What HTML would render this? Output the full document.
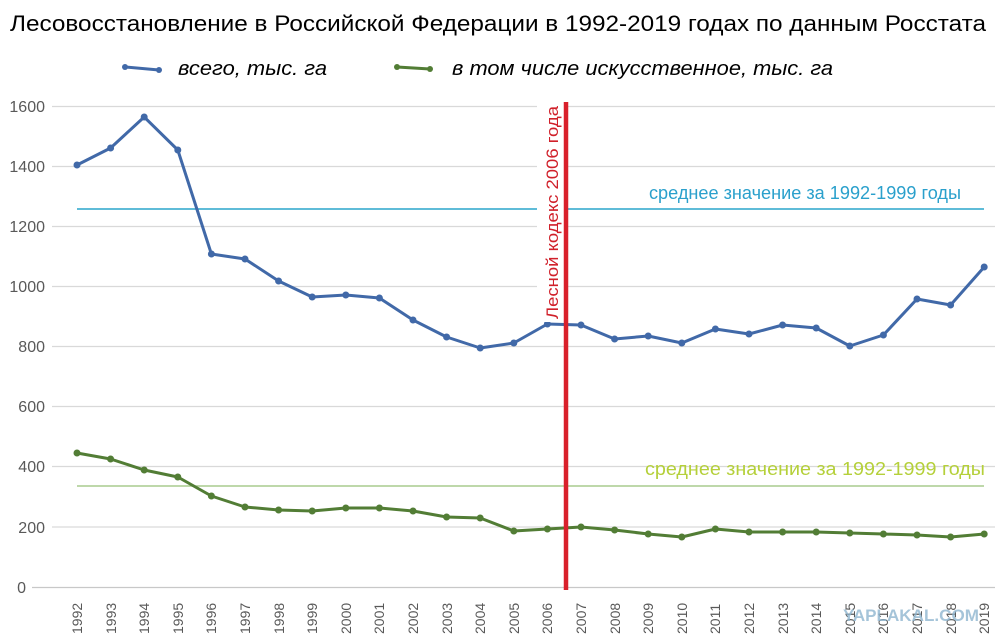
<!DOCTYPE html>
<html><head><meta charset="utf-8"><style>html,body{margin:0;padding:0;background:#fff}svg{display:block}</style></head>
<body>
<svg width="1000" height="643" viewBox="0 0 1000 643" xmlns="http://www.w3.org/2000/svg" font-family="Liberation Sans, DejaVu Sans, sans-serif">
<rect width="1000" height="643" fill="#fff"/>
<text x="10" y="31" font-size="22" fill="#000" textLength="976" lengthAdjust="spacingAndGlyphs">Лесовосстановление в Российской Федерации в 1992-2019 годах по данным Росстата</text>
<g stroke-linecap="round">
<line x1="125" y1="67" x2="159" y2="70" stroke="#4169a8" stroke-width="3"/>
<circle cx="125" cy="67" r="3" fill="#4169a8"/><circle cx="159" cy="70" r="3" fill="#4169a8"/>
<line x1="397" y1="67" x2="430" y2="69" stroke="#527d35" stroke-width="3"/>
<circle cx="397" cy="67" r="3" fill="#527d35"/><circle cx="430" cy="69" r="3" fill="#527d35"/>
</g>
<text x="178" y="75" font-size="20" font-style="italic" fill="#000" textLength="149" lengthAdjust="spacingAndGlyphs">всего, тыс. га</text>
<text x="452" y="75" font-size="20" font-style="italic" fill="#000" textLength="381" lengthAdjust="spacingAndGlyphs">в том числе искусственное, тыс. га</text>
<g stroke="#d9d9d9" stroke-width="1.3">
<line x1="52" y1="106.5" x2="995" y2="106.5"/><line x1="52" y1="166.5" x2="995" y2="166.5"/>
<line x1="52" y1="226.5" x2="995" y2="226.5"/><line x1="52" y1="286.5" x2="995" y2="286.5"/>
<line x1="52" y1="346.5" x2="995" y2="346.5"/><line x1="52" y1="406.5" x2="995" y2="406.5"/>
<line x1="52" y1="466.5" x2="995" y2="466.5"/><line x1="52" y1="527" x2="995" y2="527"/>
<line x1="32" y1="587.5" x2="995" y2="587.5" stroke="#c8c8c8"/>
</g>
<g font-size="16" fill="#595959" text-anchor="end">
<text x="45" y="112">1600</text><text x="45" y="172">1400</text><text x="45" y="232">1200</text>
<text x="45" y="292">1000</text><text x="45" y="352">800</text><text x="45" y="412">600</text>
<text x="45" y="472">400</text><text x="45" y="533">200</text><text x="26" y="593">0</text>
</g>
<line x1="77" y1="209" x2="984" y2="209" stroke="#2aa5cc" stroke-width="1.5"/>
<line x1="77" y1="486" x2="984" y2="486" stroke="#a9cc8e" stroke-width="1.5"/>
<text x="649" y="199" font-size="18" fill="#2aa0cc" textLength="312" lengthAdjust="spacingAndGlyphs">среднее значение за 1992-1999 годы</text>
<text x="645" y="475" font-size="18" fill="#b5d03a" textLength="340" lengthAdjust="spacingAndGlyphs">среднее значение за 1992-1999 годы</text>
<polyline fill="none" stroke="#4169a8" stroke-width="3" stroke-linejoin="round" points="77,165 110.6,148 144.2,117 177.8,150 211.4,254 245,259 278.6,281 312.2,297 345.8,295 379.4,298 413,320 446.6,337 480.2,348 513.8,343 547.4,324 581,325 614.6,339 648.2,336 681.8,343 715.4,329 749,334 782.6,325 816.2,328 849.8,346 883.4,335 917,299 950.6,305 984.2,267"/>
<g fill="#4169a8">
<circle cx="77" cy="165" r="3.5"/><circle cx="110.6" cy="148" r="3.5"/><circle cx="144.2" cy="117" r="3.5"/><circle cx="177.8" cy="150" r="3.5"/><circle cx="211.4" cy="254" r="3.5"/><circle cx="245" cy="259" r="3.5"/><circle cx="278.6" cy="281" r="3.5"/><circle cx="312.2" cy="297" r="3.5"/><circle cx="345.8" cy="295" r="3.5"/><circle cx="379.4" cy="298" r="3.5"/><circle cx="413" cy="320" r="3.5"/><circle cx="446.6" cy="337" r="3.5"/><circle cx="480.2" cy="348" r="3.5"/><circle cx="513.8" cy="343" r="3.5"/><circle cx="547.4" cy="324" r="3.5"/><circle cx="581" cy="325" r="3.5"/><circle cx="614.6" cy="339" r="3.5"/><circle cx="648.2" cy="336" r="3.5"/><circle cx="681.8" cy="343" r="3.5"/><circle cx="715.4" cy="329" r="3.5"/><circle cx="749" cy="334" r="3.5"/><circle cx="782.6" cy="325" r="3.5"/><circle cx="816.2" cy="328" r="3.5"/><circle cx="849.8" cy="346" r="3.5"/><circle cx="883.4" cy="335" r="3.5"/><circle cx="917" cy="299" r="3.5"/><circle cx="950.6" cy="305" r="3.5"/><circle cx="984.2" cy="267" r="3.5"/>
</g>
<polyline fill="none" stroke="#527d35" stroke-width="3" stroke-linejoin="round" points="77,453 110.6,459 144.2,470 177.8,477 211.4,496 245,507 278.6,510 312.2,511 345.8,508 379.4,508 413,511 446.6,517 480.2,518 513.8,531 547.4,529 581,527 614.6,530 648.2,534 681.8,537 715.4,529 749,532 782.6,532 816.2,532 849.8,533 883.4,534 917,535 950.6,537 984.2,534"/>
<g fill="#527d35">
<circle cx="77" cy="453" r="3.5"/><circle cx="110.6" cy="459" r="3.5"/><circle cx="144.2" cy="470" r="3.5"/><circle cx="177.8" cy="477" r="3.5"/><circle cx="211.4" cy="496" r="3.5"/><circle cx="245" cy="507" r="3.5"/><circle cx="278.6" cy="510" r="3.5"/><circle cx="312.2" cy="511" r="3.5"/><circle cx="345.8" cy="508" r="3.5"/><circle cx="379.4" cy="508" r="3.5"/><circle cx="413" cy="511" r="3.5"/><circle cx="446.6" cy="517" r="3.5"/><circle cx="480.2" cy="518" r="3.5"/><circle cx="513.8" cy="531" r="3.5"/><circle cx="547.4" cy="529" r="3.5"/><circle cx="581" cy="527" r="3.5"/><circle cx="614.6" cy="530" r="3.5"/><circle cx="648.2" cy="534" r="3.5"/><circle cx="681.8" cy="537" r="3.5"/><circle cx="715.4" cy="529" r="3.5"/><circle cx="749" cy="532" r="3.5"/><circle cx="782.6" cy="532" r="3.5"/><circle cx="816.2" cy="532" r="3.5"/><circle cx="849.8" cy="533" r="3.5"/><circle cx="883.4" cy="534" r="3.5"/><circle cx="917" cy="535" r="3.5"/><circle cx="950.6" cy="537" r="3.5"/><circle cx="984.2" cy="534" r="3.5"/>
</g>
<rect x="537" y="100" width="28" height="222" fill="#fff"/>
<text transform="translate(558,319) rotate(-90)" font-size="17" fill="#d0202a" textLength="213" lengthAdjust="spacingAndGlyphs">Лесной кодекс 2006 года</text>
<line x1="566" y1="102" x2="566" y2="590" stroke="#d9202b" stroke-width="4.5"/>
<g font-size="14" fill="#595959">
<text transform="translate(82,634) rotate(-90)">1992</text><text transform="translate(116,634) rotate(-90)">1993</text><text transform="translate(149,634) rotate(-90)">1994</text><text transform="translate(183,634) rotate(-90)">1995</text><text transform="translate(216,634) rotate(-90)">1996</text><text transform="translate(250,634) rotate(-90)">1997</text><text transform="translate(284,634) rotate(-90)">1998</text><text transform="translate(317,634) rotate(-90)">1999</text><text transform="translate(351,634) rotate(-90)">2000</text><text transform="translate(384,634) rotate(-90)">2001</text><text transform="translate(418,634) rotate(-90)">2002</text><text transform="translate(452,634) rotate(-90)">2003</text><text transform="translate(485,634) rotate(-90)">2004</text><text transform="translate(519,634) rotate(-90)">2005</text><text transform="translate(552,634) rotate(-90)">2006</text><text transform="translate(586,634) rotate(-90)">2007</text><text transform="translate(620,634) rotate(-90)">2008</text><text transform="translate(653,634) rotate(-90)">2009</text><text transform="translate(687,634) rotate(-90)">2010</text><text transform="translate(720,634) rotate(-90)">2011</text><text transform="translate(754,634) rotate(-90)">2012</text><text transform="translate(788,634) rotate(-90)">2013</text><text transform="translate(821,634) rotate(-90)">2014</text><text transform="translate(855,634) rotate(-90)">2015</text><text transform="translate(888,634) rotate(-90)">2016</text><text transform="translate(922,634) rotate(-90)">2017</text><text transform="translate(956,634) rotate(-90)">2018</text><text transform="translate(989,634) rotate(-90)">2019</text>
</g>
<text x="843" y="621" font-size="17" font-weight="bold" fill="#8fb6d0" opacity="0.8" textLength="136" lengthAdjust="spacingAndGlyphs">YAPLAKAL.COM</text>
</svg>
</body></html>
